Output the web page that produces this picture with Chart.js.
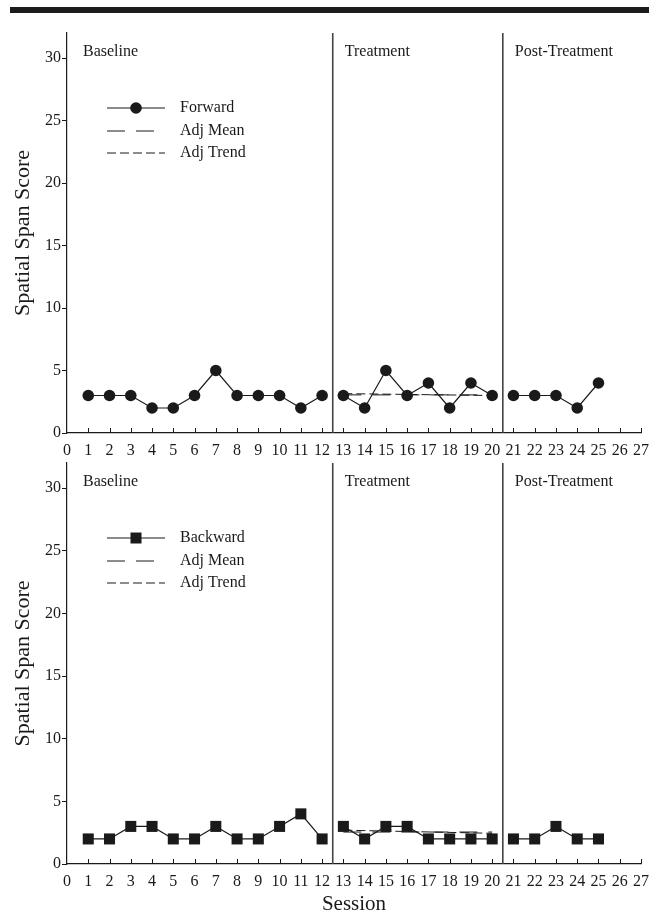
<!DOCTYPE html>
<html>
<head>
<meta charset="utf-8">
<script src="https://cdn.jsdelivr.net/npm/chart.js@4.4.0/dist/chart.umd.min.js"></script>
<style>
  html, body { margin: 0; padding: 0; background: #fff; }
  body { width: 649px; height: 920px; position: relative; overflow: hidden; }
  .rule { position: absolute; left: 10px; top: 7px; width: 639px; height: 6px; background: #1c1c1c; }
  .panel { position: absolute; left: 0; width: 649px; height: 460px; }
  #topPanel { top: 0; }
  #bottomPanel { top: 460px; }
</style>
</head>
<body>
<div class="rule"></div>
<div class="panel" id="topPanel"><canvas id="forwardChart" width="649" height="460"></canvas></div>
<div class="panel" id="bottomPanel"><canvas id="backwardChart" width="649" height="460"></canvas></div>
<script>
// Data
const sessions = [1, 2, 3, 4, 5, 6, 7, 8, 9, 10, 11, 12, 13, 14, 15, 16, 17, 18, 19, 20, 21, 22, 23, 24, 25];
const forward = [3, 3, 3, 2, 2, 3, 5, 3, 3, 3, 2, 3, 3, 2, 5, 3, 4, 2, 4, 3, 3, 3, 3, 2, 4];
const backward = [2, 2, 3, 3, 2, 2, 3, 2, 2, 3, 4, 2, 3, 2, 3, 3, 2, 2, 2, 2, 2, 2, 3, 2, 2];
const phaseBreaks = [12.5, 20.5];
const phaseNames = ['Baseline', 'Treatment', 'Post-Treatment'];
const treatmentRange = [13, 20];
const forwardAdjMean = [3.05, 3.05];
const forwardAdjTrend = [3.15, 3.0];
const backwardAdjMean = [2.55, 2.55];
const backwardAdjTrend = [2.7, 2.45];
const xTicks = [0, 1, 2, 3, 4, 5, 6, 7, 8, 9, 10, 11, 12, 13, 14, 15, 16, 17, 18, 19, 20, 21, 22, 23, 24, 25, 26, 27];
const yTicks = [0, 5, 10, 15, 20, 25, 30];

const INK = '#1a1a1a';
const SERIF = "'Liberation Serif', 'DejaVu Serif', serif";
const MEAN_DASH = [18, 11];
const TREND_DASH = [9, 4];

// split a series into one segment per phase so lines break at the phase lines
function phaseSegments(values) {
    const segs = [[], [], []];
    sessions.forEach((s, i) => {
        let p = 0;
        if (s > phaseBreaks[0]) p = 1;
        if (s > phaseBreaks[1]) p = 2;
        segs[p].push({ x: s, y: values[i] });
    });
    return segs;
}

function drawMarker(ctx, style, x, y) {
    ctx.fillStyle = INK;
    ctx.beginPath();
    if (style === 'rect') {
        ctx.rect(x - 5.5, y - 5.5, 11, 11);
    } else {
        ctx.arc(x, y, 5.8, 0, Math.PI * 2);
    }
    ctx.fill();
}

const decorPlugin = {
    id: 'decor',
    afterDatasetsDraw(chart, args, opts) {
        const { ctx, chartArea, scales } = chart;
        const x = scales.x;
        ctx.save();

        // inward tick marks on the x axis
        ctx.strokeStyle = INK;
        ctx.lineWidth = 1;
        xTicks.forEach(v => {
            if (v === 0) return;
            const px = Math.round(x.getPixelForValue(v)) + 0.5;
            ctx.beginPath();
            ctx.moveTo(px, chartArea.bottom);
            ctx.lineTo(px, chartArea.bottom - 5);
            ctx.stroke();
        });

        // phase change lines
        ctx.strokeStyle = '#444';
        ctx.lineWidth = 1.6;
        phaseBreaks.forEach(b => {
            const px = x.getPixelForValue(b);
            ctx.beginPath();
            ctx.moveTo(px, chartArea.top);
            ctx.lineTo(px, chartArea.bottom);
            ctx.stroke();
        });

        // phase labels
        ctx.fillStyle = INK;
        ctx.font = '16px ' + SERIF;
        ctx.textBaseline = 'middle';
        ctx.textAlign = 'left';
        const labelY = chartArea.top + 19;
        ctx.fillText(phaseNames[0], chartArea.left + 16, labelY);
        ctx.fillText(phaseNames[1], x.getPixelForValue(phaseBreaks[0]) + 12, labelY);
        ctx.fillText(phaseNames[2], x.getPixelForValue(phaseBreaks[1]) + 12, labelY);

        // legend
        const lx0 = chartArea.left + 40, lx1 = chartArea.left + 98, tx = chartArea.left + 113;
        const rows = [chartArea.top + 75, chartArea.top + 98, chartArea.top + 120];
        ctx.strokeStyle = INK;
        ctx.lineWidth = 1.2;
        ctx.beginPath();
        ctx.moveTo(lx0, rows[0]);
        ctx.lineTo(lx1, rows[0]);
        ctx.stroke();
        drawMarker(ctx, opts.pointStyle, (lx0 + lx1) / 2, rows[0]);

        ctx.lineWidth = 1;
        ctx.setLineDash(MEAN_DASH);
        ctx.beginPath();
        ctx.moveTo(lx0, rows[1]);
        ctx.lineTo(lx1, rows[1]);
        ctx.stroke();

        ctx.setLineDash(TREND_DASH);
        ctx.beginPath();
        ctx.moveTo(lx0, rows[2]);
        ctx.lineTo(lx1, rows[2]);
        ctx.stroke();
        ctx.setLineDash([]);

        ctx.fillStyle = INK;
        ctx.font = '16px ' + SERIF;
        ctx.fillText(opts.label, tx, rows[0]);
        ctx.fillText('Adj Mean', tx, rows[1]);
        ctx.fillText('Adj Trend', tx, rows[2]);

        ctx.restore();
    }
};

function makeChart(canvasId, values, adjMean, adjTrend, label, pointStyle, padTop, xHeight, xTitle) {
    const segs = phaseSegments(values);
    const lineSet = data => ({
        data: data,
        borderColor: INK,
        borderWidth: 1.2,
        backgroundColor: INK,
        pointBackgroundColor: INK,
        pointBorderColor: INK,
        pointStyle: pointStyle,
        pointRadius: pointStyle === 'rect' ? 7.8 : 5.8,
        pointBorderWidth: 0,
        tension: 0
    });
    const adjSet = (ys, dash) => ({
        data: [{ x: treatmentRange[0], y: ys[0] }, { x: treatmentRange[1], y: ys[1] }],
        borderColor: INK,
        borderWidth: 1,
        borderDash: dash,
        pointRadius: 0,
        tension: 0
    });

    return new Chart(document.getElementById(canvasId).getContext('2d'), {
        type: 'line',
        data: {
            datasets: [
                adjSet(adjMean, MEAN_DASH),
                adjSet(adjTrend, TREND_DASH),
                lineSet(segs[0]),
                lineSet(segs[1]),
                lineSet(segs[2])
            ]
        },
        options: {
            responsive: false,
            animation: false,
            devicePixelRatio: 1,
            layout: { autoPadding: false, padding: { top: padTop, right: 8, bottom: 0, left: 0 } },
            plugins: {
                legend: { display: false },
                tooltip: { enabled: false },
                decor: { label: label, pointStyle: pointStyle }
            },
            scales: {
                x: {
                    type: 'linear',
                    min: 0,
                    max: 27,
                    afterBuildTicks: s => { s.ticks = xTicks.map(v => ({ value: v })); },
                    afterFit: s => { s.height = xHeight; s.paddingLeft = 0; s.paddingRight = 0; },
                    grid: { display: false, drawTicks: false },
                    border: { display: true, color: INK, width: 1.2 },
                    ticks: {
                        color: INK,
                        font: { family: SERIF, size: 16 },
                        padding: 8,
                        maxRotation: 0,
                        autoSkip: false
                    },
                    title: {
                        display: !!xTitle,
                        text: xTitle || '',
                        color: INK,
                        font: { family: SERIF, size: 21 },
                        padding: { top: 0, bottom: 3 }
                    }
                },
                y: {
                    type: 'linear',
                    min: 0,
                    max: 32,
                    afterBuildTicks: s => { s.ticks = yTicks.map(v => ({ value: v })); },
                    afterFit: s => { s.width = 67; s.paddingTop = 0; s.paddingBottom = 0; },
                    grid: { display: true, drawOnChartArea: false, drawTicks: true, tickLength: 5, color: INK, lineWidth: 1 },
                    border: { display: true, color: INK, width: 1.2 },
                    ticks: {
                        color: INK,
                        font: { family: SERIF, size: 16 },
                        padding: 1
                    },
                    title: {
                        display: true,
                        text: 'Spatial Span Score',
                        color: INK,
                        font: { family: SERIF, size: 22 },
                        padding: { top: 10, bottom: 0 }
                    }
                }
            }
        },
        plugins: [decorPlugin]
    });
}

makeChart('forwardChart', forward, forwardAdjMean, forwardAdjTrend, 'Forward', 'circle', 33, 27, null);
makeChart('backwardChart', backward, backwardAdjMean, backwardAdjTrend, 'Backward', 'rect', 3, 56, 'Session');
</script>
</body>
</html>
